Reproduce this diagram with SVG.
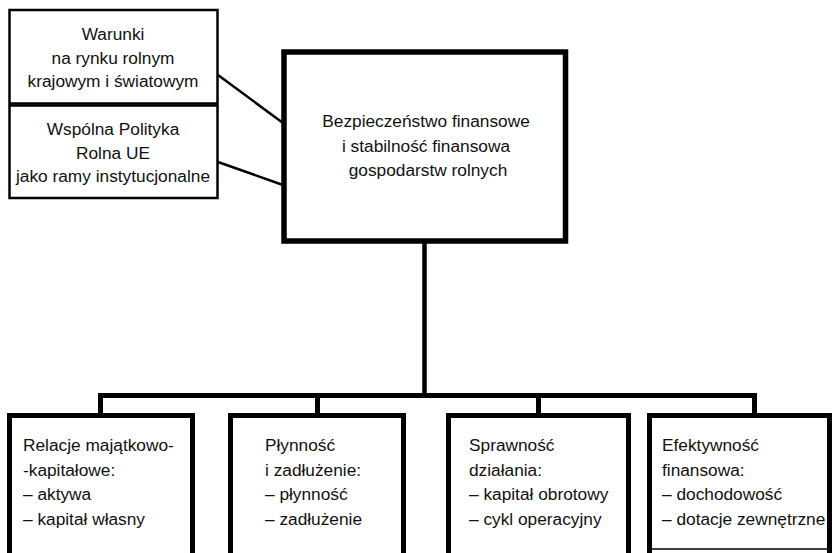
<svg xmlns="http://www.w3.org/2000/svg" width="834" height="553" viewBox="0 0 834 553">
<style>
  text { font-family: "Liberation Sans", Arial, sans-serif; font-size: 17.3px; fill: #111; }
  .c { text-anchor: middle; }
  .thin { fill: #fff; stroke: #000; stroke-width: 2.5; }
  .thick { fill: #fff; stroke: #000; stroke-width: 5.5; }
  .bx { fill: #fff; stroke: #000; stroke-width: 5; }
  .conn { fill: none; stroke: #000; }
</style>
<rect width="834" height="553" fill="#fff"/>
<g id="connectors">
  <line class="conn" x1="218" y1="75" x2="283" y2="123" stroke-width="2.5"/>
  <line class="conn" x1="218" y1="162" x2="283" y2="185" stroke-width="2.5"/>
  <line class="conn" x1="424.5" y1="243" x2="424.5" y2="396" stroke-width="4.5"/>
  <line class="conn" x1="98" y1="395.5" x2="757" y2="395.5" stroke-width="5"/>
  <line class="conn" x1="100.5" y1="395" x2="100.5" y2="416" stroke-width="5"/>
  <line class="conn" x1="317.5" y1="395" x2="317.5" y2="416" stroke-width="5"/>
  <line class="conn" x1="538.5" y1="395" x2="538.5" y2="416" stroke-width="5"/>
  <line class="conn" x1="754.5" y1="395" x2="754.5" y2="416" stroke-width="5"/>
</g>
<g id="warunki">
  <rect class="thin" x="9.5" y="10" width="208" height="93.5"/>
  <text class="c" x="113" y="40">Warunki</text>
  <text class="c" x="113" y="63.5">na rynku rolnym</text>
  <text class="c" x="113" y="87">krajowym i światowym</text>
</g>
<g id="wpr">
  <rect class="thin" x="9.5" y="105.5" width="208" height="92.5"/>
  <text class="c" x="113" y="135">Wspólna Polityka</text>
  <text class="c" x="113" y="158.5">Rolna UE</text>
  <text class="c" x="113" y="182">jako ramy instytucjonalne</text>
</g>
<g id="main">
  <rect class="thick" x="284" y="52" width="281.5" height="189"/>
  <text class="c" x="426" y="127">Bezpieczeństwo finansowe</text>
  <text class="c" x="426" y="151.5">i stabilność finansowa</text>
  <text class="c" x="428" y="176">gospodarstw rolnych</text>
</g>
<g id="relacje">
  <rect class="bx" x="9.5" y="415.5" width="183" height="160"/>
  <text x="23" y="451">Relacje majątkowo-</text>
  <text x="23" y="475.5">-kapitałowe:</text>
  <text x="23" y="500">– aktywa</text>
  <text x="23" y="524.5">– kapitał własny</text>
</g>
<g id="plynnosc">
  <rect class="bx" x="230.5" y="415.5" width="173" height="160"/>
  <text x="265" y="451">Płynność</text>
  <text x="265" y="475.5">i zadłużenie:</text>
  <text x="265" y="500">– płynność</text>
  <text x="265" y="524.5">– zadłużenie</text>
</g>
<g id="sprawnosc">
  <rect class="bx" x="448.5" y="415.5" width="180" height="160"/>
  <text x="469" y="451">Sprawność</text>
  <text x="469" y="475.5">działania:</text>
  <text x="469" y="500">– kapitał obrotowy</text>
  <text x="469" y="524.5">– cykl operacyjny</text>
</g>
<g id="efektywnosc">
  <path d="M649.5,560 V415.5 H829.5 V560" fill="#fff" stroke="#000" stroke-width="5"/>
  <line x1="649.5" y1="549" x2="829.5" y2="549" stroke="#000" stroke-width="1.5"/>
  <text x="662" y="451">Efektywność</text>
  <text x="662" y="475.5">finansowa:</text>
  <text x="662" y="500">– dochodowość</text>
  <text x="662" y="524.5">– dotacje zewnętrzne</text>
</g>
</svg>
